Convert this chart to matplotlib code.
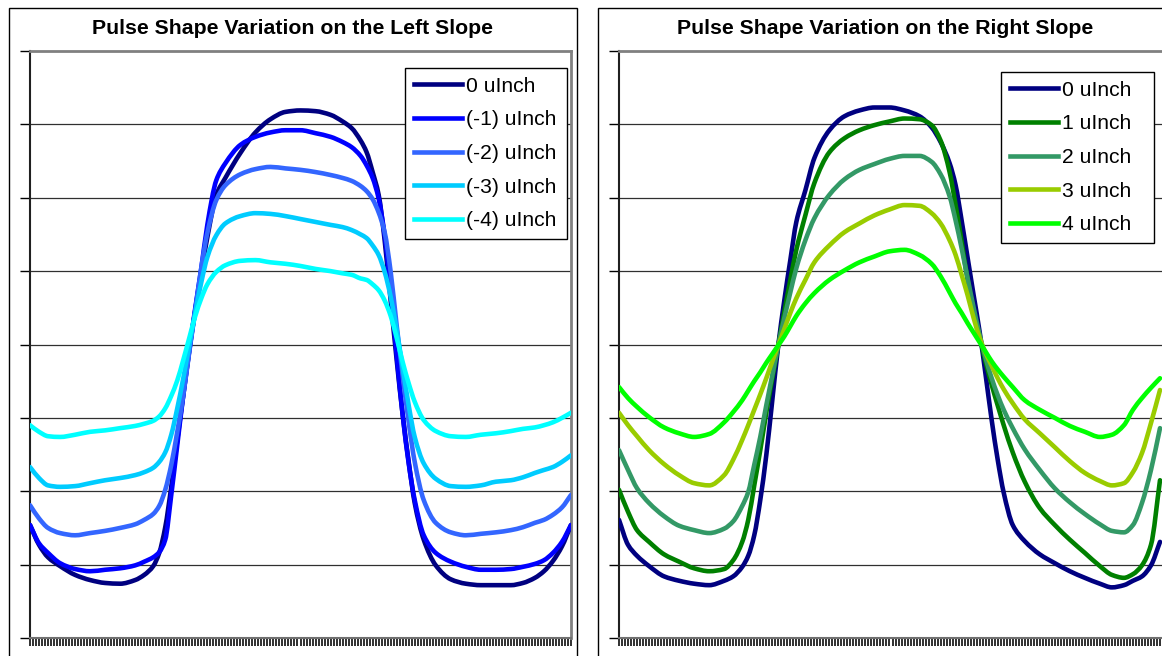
import matplotlib
matplotlib.use("Agg")
import matplotlib.pyplot as plt
from matplotlib.patches import Rectangle, PathPatch
from matplotlib.path import Path
from matplotlib.lines import Line2D

plt.rcParams['font.family'] = ['Liberation Sans', 'DejaVu Sans']

# sample positions (category index, 181 categories 0..180)
x = [0, 3, 6, 10, 15, 20, 25, 30, 35, 38, 41, 43, 45, 47, 49, 51, 53, 55, 57, 59,
     62, 65, 70, 75, 80, 85, 90, 95, 100, 104, 107, 110, 112, 114, 116, 118, 120,
     122, 124, 126, 128, 131, 135, 140, 145, 150, 155, 160, 164, 168, 171, 174, 177, 180]

# ---- left chart: variation on the left slope ----
left_0 = [15.4, 12.7, 11.0, 9.8, 8.6, 7.9, 7.5, 7.4, 7.9, 8.6, 9.8, 11.6, 15.1, 20.6, 27.0,
          33.1, 39.2, 44.7, 49.9, 54.6, 60.4, 62.7, 66.1, 68.9, 70.7, 71.7, 71.9, 71.8, 71.3,
          70.4, 69.5, 67.8, 66.2, 63.5, 60.4, 54.2, 46.0, 37.9, 30.4, 24.0, 18.4, 13.4, 9.9,
          8.0, 7.4, 7.2, 7.2, 7.2, 7.5, 8.2, 9.1, 10.5, 12.5, 15.4]
left_m1 = [15.4, 12.9, 11.6, 10.2, 9.4, 9.1, 9.3, 9.5, 9.9, 10.4, 11.0, 11.7, 13.4, 19.5, 26.3,
           33.1, 39.2, 45.0, 50.4, 56.3, 62.4, 64.7, 67.2, 68.3, 68.9, 69.2, 69.2, 68.8, 68.3,
           67.6, 66.9, 65.7, 64.4, 62.7, 59.9, 54.9, 47.4, 38.6, 30.4, 23.8, 18.8, 14.0, 11.6,
           10.4, 9.7, 9.3, 9.3, 9.4, 9.7, 10.1, 10.6, 11.6, 13.1, 15.4]
left_m2 = [18.1, 16.3, 15.0, 14.3, 14.0, 14.3, 14.6, 15.0, 15.5, 16.1, 16.9, 18.0, 20.2, 23.6,
           28.1, 33.1, 39.0, 44.7, 50.5, 55.2, 59.7, 61.7, 63.2, 63.9, 64.2, 64.0, 63.8, 63.5,
           63.1, 62.7, 62.3, 61.6, 60.9, 59.8, 58.0, 55.3, 49.9, 42.6, 35.8, 29.4, 24.0, 18.8,
           15.7, 14.4, 14.0, 14.2, 14.4, 14.7, 15.1, 15.7, 16.1, 16.8, 17.8, 19.5]
left_m3 = [23.3, 21.8, 20.8, 20.6, 20.7, 21.1, 21.5, 21.8, 22.2, 22.6, 23.2, 24.0, 25.3, 27.7,
           31.3, 35.4, 39.9, 44.4, 48.5, 51.9, 54.9, 56.5, 57.5, 57.9, 57.8, 57.5, 57.1, 56.7,
           56.3, 56.0, 55.6, 55.0, 54.5, 53.5, 52.2, 49.9, 46.5, 42.0, 36.8, 31.7, 27.4, 23.8,
           21.7, 20.7, 20.6, 20.8, 21.3, 21.5, 21.9, 22.5, 22.9, 23.3, 24.0, 24.9]
left_m4 = [29.0, 28.1, 27.5, 27.4, 27.7, 28.1, 28.3, 28.6, 28.9, 29.2, 29.6, 30.2, 31.3, 33.0,
           35.1, 37.9, 40.9, 43.9, 46.3, 48.2, 49.9, 50.8, 51.4, 51.5, 51.2, 51.0, 50.7, 50.3,
           50.0, 49.7, 49.5, 49.0, 48.8, 48.2, 47.4, 46.0, 43.9, 40.9, 37.6, 34.7, 32.2, 29.7,
           28.2, 27.5, 27.4, 27.7, 27.9, 28.2, 28.5, 28.7, 29.0, 29.4, 30.0, 30.7]

# ---- right chart: variation on the right slope ----
right_0 = [16.1, 12.7, 11.2, 9.8, 8.4, 7.8, 7.4, 7.2, 7.8, 8.4, 9.7, 11.2, 14.0, 18.8, 24.9,
           32.4, 39.9, 46.0, 51.5, 56.7, 61.0, 65.4, 69.2, 71.1, 71.9, 72.3, 72.3, 71.9, 71.1,
           69.6, 67.6, 64.7, 61.7, 56.9, 51.8, 46.7, 41.7, 35.8, 29.7, 24.3, 19.8, 15.4, 13.2,
           11.4, 10.2, 9.1, 8.2, 7.4, 6.9, 7.2, 7.8, 8.4, 9.9, 13.1]
right_p1 = [20.2, 17.2, 14.7, 13.1, 11.4, 10.4, 9.5, 9.1, 9.4, 10.6, 13.1, 16.1, 20.8, 25.6,
            30.7, 35.4, 39.9, 44.4, 48.8, 52.9, 57.6, 62.0, 66.2, 68.1, 69.2, 69.9, 70.4, 70.8,
            70.7, 69.9, 67.8, 63.5, 59.0, 54.0, 48.8, 44.4, 41.0, 37.6, 34.5, 31.7, 29.0, 25.3,
            21.3, 17.7, 15.4, 13.4, 11.6, 9.8, 8.6, 8.2, 8.7, 9.9, 12.7, 21.5]
right_p2 = [25.6, 22.9, 20.4, 18.4, 16.6, 15.3, 14.7, 14.3, 14.9, 15.9, 18.0, 19.9, 23.6, 27.4,
            31.7, 35.8, 39.9, 43.6, 47.1, 50.4, 54.2, 57.2, 60.4, 62.5, 63.8, 64.6, 65.3, 65.7,
            65.7, 64.9, 63.2, 60.2, 56.9, 53.1, 49.0, 45.0, 41.3, 38.1, 35.4, 33.1, 31.1, 28.6,
            25.7, 22.9, 20.4, 18.5, 16.9, 15.5, 14.6, 14.4, 15.4, 18.4, 22.9, 28.6]
right_p3 = [30.7, 29.0, 27.5, 25.6, 23.7, 22.2, 21.1, 20.8, 22.2, 24.3, 27.0, 29.0, 31.1, 33.2,
            35.4, 37.7, 39.9, 42.1, 44.3, 46.3, 48.8, 51.2, 53.5, 55.3, 56.5, 57.6, 58.4, 59.0,
            58.9, 57.9, 56.5, 54.2, 52.2, 49.5, 46.7, 43.6, 40.9, 38.8, 37.1, 35.4, 33.9, 32.0,
            29.8, 27.9, 26.0, 24.1, 22.5, 21.4, 20.8, 21.1, 22.6, 25.2, 29.3, 33.8]
right_p4 = [34.2, 32.7, 31.5, 30.1, 28.7, 27.9, 27.4, 27.8, 29.4, 30.8, 32.4, 33.7, 35.0, 36.2,
            37.5, 38.7, 39.9, 41.1, 42.5, 43.9, 45.6, 47.0, 48.8, 50.1, 51.2, 52.0, 52.7, 52.9,
            52.2, 51.0, 49.3, 47.1, 45.6, 44.3, 42.9, 41.6, 40.3, 39.0, 37.7, 36.6, 35.6, 34.2,
            32.4, 31.1, 30.0, 28.9, 28.1, 27.4, 27.7, 29.0, 31.1, 32.7, 34.1, 35.4]

left_labels = ['0 uInch', '(-1) uInch', '(-2) uInch', '(-3) uInch', '(-4) uInch']
right_labels = ['0 uInch', '1 uInch', '2 uInch', '3 uInch', '4 uInch']
left_colors = ['#000080', '#0000FF', '#3366FF', '#00CCFF', '#00FFFF']
right_colors = ['#000080', '#008000', '#339966', '#99CC00', '#00FF00']
titles = ['Pulse Shape Variation on the Left Slope', 'Pulse Shape Variation on the Right Slope']
n_categories = 181
y_grid = [0, 10, 20, 30, 40, 50, 60, 70, 80]

W, H = 1162, 656
fig = plt.figure(figsize=(W / 100, H / 100), dpi=100)


def fx(px):
    return px / W


def fy(py):
    return 1 - py / H


def smooth_path(xs, ys):
    """Smoothed line (like a spreadsheet 'smoothed line'): monotone cubic Bezier segments
    through the data points, expressed as a matplotlib Path in data coordinates."""
    n = len(xs)
    h = [xs[i + 1] - xs[i] for i in range(n - 1)]
    d = [(ys[i + 1] - ys[i]) / h[i] for i in range(n - 1)]
    m = [0.0] * n
    m[0], m[-1] = d[0], d[-1]
    for i in range(1, n - 1):
        if d[i - 1] * d[i] <= 0:
            m[i] = 0.0
        else:
            w1 = 2 * h[i] + h[i - 1]
            w2 = h[i] + 2 * h[i - 1]
            m[i] = (w1 + w2) / (w1 / d[i - 1] + w2 / d[i])
    verts = [(xs[0], ys[0])]
    codes = [Path.MOVETO]
    for i in range(n - 1):
        verts += [(xs[i] + h[i] / 3, ys[i] + m[i] * h[i] / 3),
                  (xs[i + 1] - h[i] / 3, ys[i + 1] - m[i + 1] * h[i] / 3),
                  (xs[i + 1], ys[i + 1])]
        codes += [Path.CURVE4] * 3
    return Path(verts, codes)


# outer chart boxes
for left_px, right_px in [(9, 577), (598, 1180)]:
    fig.patches.append(Rectangle((fx(left_px), fy(H + 30)), fx(right_px - left_px), (H + 30 - 8) / H,
                                 transform=fig.transFigure, fill=False, edgecolor='black',
                                 linewidth=1.0, zorder=0))

panels = [
    (30, 541, titles[0], [left_0, left_m1, left_m2, left_m3, left_m4], left_labels, left_colors,
     293, (405, 567, 68)),
    (619, 544, titles[1], [right_0, right_p1, right_p2, right_p3, right_p4], right_labels, right_colors,
     885, (1001, 1154, 72)),
]

LW = 3.3
for x0, wpx, title, series, labels, colors, tcx, (lg_l, lg_r, lg_t) in panels:
    ax = fig.add_axes([fx(x0), fy(638), fx(wpx), (638 - 51) / H])
    for vals, col in zip(series, colors):
        ax.add_patch(PathPatch(smooth_path(x, vals), fill=False, edgecolor=col, linewidth=LW,
                               joinstyle='round', capstyle='round', zorder=3))
    ax.set_xlim(0, (n_categories - 1) * wpx / 541)
    ax.set_ylim(0, 80)
    ax.set_yticks(y_grid)
    ax.set_yticklabels([])
    ax.set_xticks(range(n_categories))
    ax.set_xticklabels([])
    ax.tick_params(axis='y', direction='out', length=7, width=1, color='black')
    ax.tick_params(axis='x', direction='out', length=6, width=1.4, color='#303030')
    for yv in y_grid[1:-1]:
        ax.axhline(yv, color='#303030', linewidth=0.9, zorder=1)
    ax.spines['top'].set_color('#808080')
    ax.spines['right'].set_color('#808080')
    ax.spines['top'].set_linewidth(2)
    ax.spines['right'].set_linewidth(2)
    ax.spines['left'].set_color('#202020')
    ax.spines['left'].set_linewidth(1.5)
    ax.spines['bottom'].set_color('#707070')
    ax.spines['bottom'].set_linewidth(1.5)
    handles = [Line2D([], [], color=c, linewidth=LW) for c in colors]
    top_frac = (638 - lg_t) / 587
    leg = ax.legend(handles, labels, loc='upper left', mode='expand',
                    bbox_to_anchor=((lg_l - x0) / wpx, 0, (lg_r - lg_l) / wpx, top_frac),
                    fontsize=15.2, frameon=True, fancybox=False, framealpha=1,
                    edgecolor='black', handlelength=2.3, handletextpad=0.19,
                    labelspacing=0.69, borderpad=0.42, borderaxespad=0)
    leg.get_frame().set_linewidth(1.0)
    fig.text(fx(tcx), fy(28.5), title, ha='center', va='center', fontsize=15.3,
             fontweight='bold', color='black')

fig.savefig('out.png', dpi=100)
